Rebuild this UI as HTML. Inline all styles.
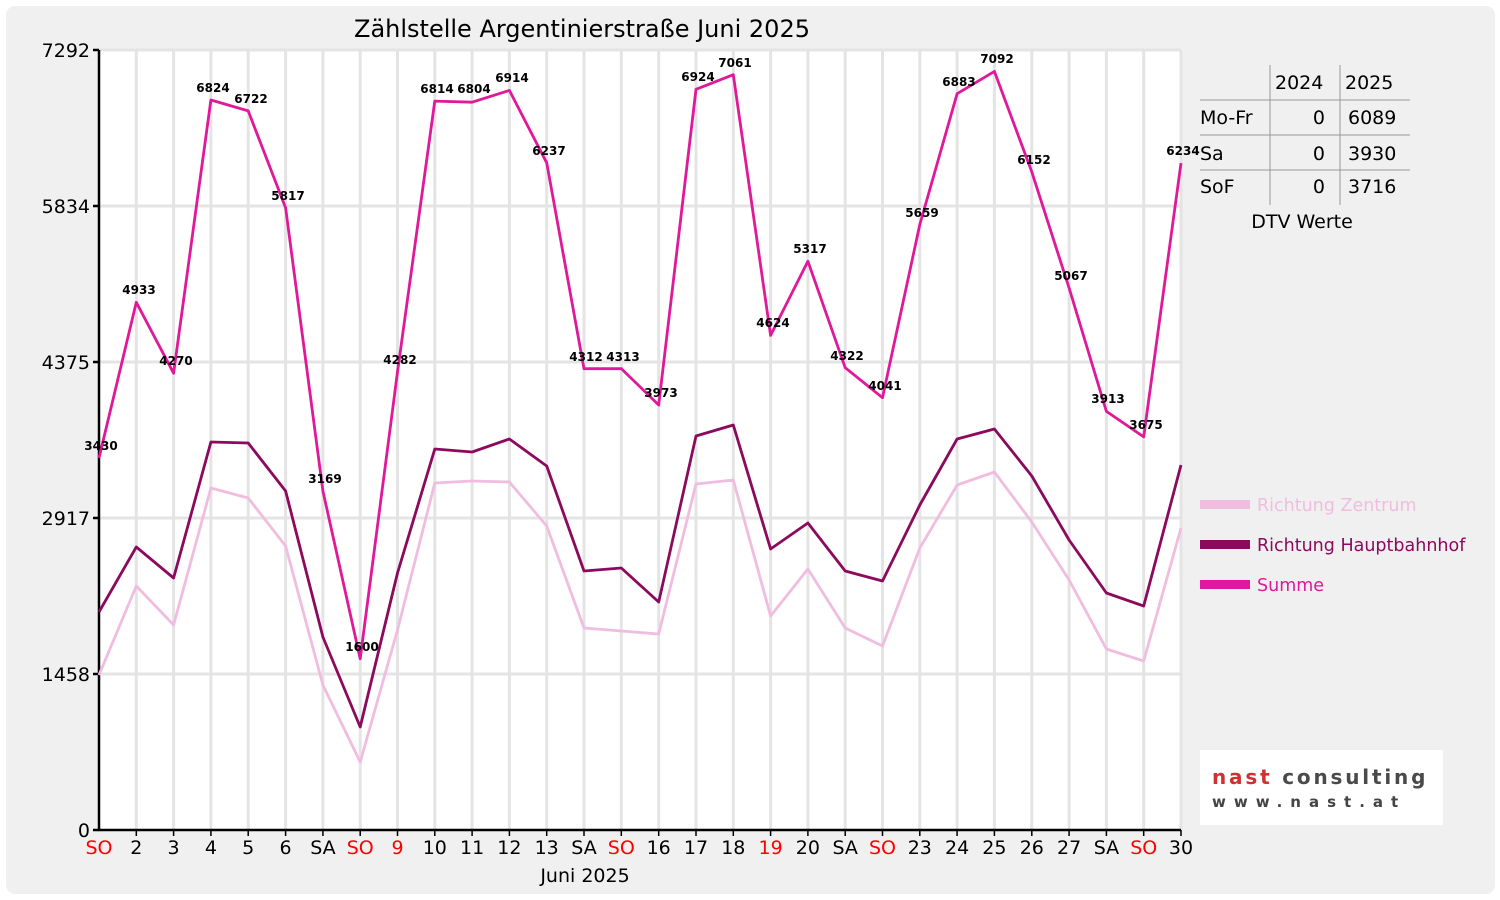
<!DOCTYPE html>
<html><head><meta charset="utf-8"><style>
html,body{margin:0;padding:0;background:#fff;}
svg{display:block;font-family:"DejaVu Sans","Liberation Sans",sans-serif;}
</style></head><body>
<svg width="1500" height="900" xmlns="http://www.w3.org/2000/svg">
<rect x="0" y="0" width="1500" height="900" fill="#ffffff"/>
<rect x="6" y="6" width="1489" height="888" rx="9" fill="#f0f0f0"/>
<rect x="99" y="50" width="1082" height="780" fill="#ffffff"/>
<g stroke="#e4e4e4" stroke-width="3">
<line x1="99" y1="50" x2="1181" y2="50"/><line x1="99" y1="206" x2="1181" y2="206"/><line x1="99" y1="362" x2="1181" y2="362"/><line x1="99" y1="518" x2="1181" y2="518"/><line x1="99" y1="674" x2="1181" y2="674"/>
<line x1="136.3" y1="50" x2="136.3" y2="830"/><line x1="173.6" y1="50" x2="173.6" y2="830"/><line x1="210.9" y1="50" x2="210.9" y2="830"/><line x1="248.2" y1="50" x2="248.2" y2="830"/><line x1="285.6" y1="50" x2="285.6" y2="830"/><line x1="322.9" y1="50" x2="322.9" y2="830"/><line x1="360.2" y1="50" x2="360.2" y2="830"/><line x1="397.5" y1="50" x2="397.5" y2="830"/><line x1="434.8" y1="50" x2="434.8" y2="830"/><line x1="472.1" y1="50" x2="472.1" y2="830"/><line x1="509.4" y1="50" x2="509.4" y2="830"/><line x1="546.7" y1="50" x2="546.7" y2="830"/><line x1="584" y1="50" x2="584" y2="830"/><line x1="621.3" y1="50" x2="621.3" y2="830"/><line x1="658.7" y1="50" x2="658.7" y2="830"/><line x1="696" y1="50" x2="696" y2="830"/><line x1="733.3" y1="50" x2="733.3" y2="830"/><line x1="770.6" y1="50" x2="770.6" y2="830"/><line x1="807.9" y1="50" x2="807.9" y2="830"/><line x1="845.2" y1="50" x2="845.2" y2="830"/><line x1="882.5" y1="50" x2="882.5" y2="830"/><line x1="919.8" y1="50" x2="919.8" y2="830"/><line x1="957.1" y1="50" x2="957.1" y2="830"/><line x1="994.4" y1="50" x2="994.4" y2="830"/><line x1="1031.8" y1="50" x2="1031.8" y2="830"/><line x1="1069.1" y1="50" x2="1069.1" y2="830"/><line x1="1106.4" y1="50" x2="1106.4" y2="830"/><line x1="1143.7" y1="50" x2="1143.7" y2="830"/><line x1="1181" y1="50" x2="1181" y2="830"/>
</g>
<g stroke="#000" stroke-width="2.5">
<line x1="99" y1="50" x2="99" y2="831"/><line x1="98" y1="830" x2="1181" y2="830"/>
<line x1="93" y1="50" x2="99" y2="50"/><line x1="93" y1="206" x2="99" y2="206"/><line x1="93" y1="362" x2="99" y2="362"/><line x1="93" y1="518" x2="99" y2="518"/><line x1="93" y1="674" x2="99" y2="674"/><line x1="93" y1="830" x2="99" y2="830"/>
</g>
<g stroke="#000" stroke-width="1.5">
<line x1="136.3" y1="830" x2="136.3" y2="836"/><line x1="173.6" y1="830" x2="173.6" y2="836"/><line x1="210.9" y1="830" x2="210.9" y2="836"/><line x1="248.2" y1="830" x2="248.2" y2="836"/><line x1="285.6" y1="830" x2="285.6" y2="836"/><line x1="322.9" y1="830" x2="322.9" y2="836"/><line x1="360.2" y1="830" x2="360.2" y2="836"/><line x1="397.5" y1="830" x2="397.5" y2="836"/><line x1="434.8" y1="830" x2="434.8" y2="836"/><line x1="472.1" y1="830" x2="472.1" y2="836"/><line x1="509.4" y1="830" x2="509.4" y2="836"/><line x1="546.7" y1="830" x2="546.7" y2="836"/><line x1="584" y1="830" x2="584" y2="836"/><line x1="621.3" y1="830" x2="621.3" y2="836"/><line x1="658.7" y1="830" x2="658.7" y2="836"/><line x1="696" y1="830" x2="696" y2="836"/><line x1="733.3" y1="830" x2="733.3" y2="836"/><line x1="770.6" y1="830" x2="770.6" y2="836"/><line x1="807.9" y1="830" x2="807.9" y2="836"/><line x1="845.2" y1="830" x2="845.2" y2="836"/><line x1="882.5" y1="830" x2="882.5" y2="836"/><line x1="919.8" y1="830" x2="919.8" y2="836"/><line x1="957.1" y1="830" x2="957.1" y2="836"/><line x1="994.4" y1="830" x2="994.4" y2="836"/><line x1="1031.8" y1="830" x2="1031.8" y2="836"/><line x1="1069.1" y1="830" x2="1069.1" y2="836"/><line x1="1106.4" y1="830" x2="1106.4" y2="836"/><line x1="1143.7" y1="830" x2="1143.7" y2="836"/><line x1="1181" y1="830" x2="1181" y2="836"/>
</g>
<text x="582" y="37" font-size="24" text-anchor="middle" fill="#000">Zählstelle Argentinierstraße Juni 2025</text>
<g font-size="19" text-anchor="end" fill="#000">
<text x="90" y="57">7292</text><text x="90" y="213">5834</text><text x="90" y="369">4375</text><text x="90" y="525">2917</text><text x="90" y="681">1458</text><text x="90" y="837">0</text>
</g>
<g font-size="19" text-anchor="middle" fill="#000">
<text x="99" y="854" fill="#f00">SO</text><text x="136.3" y="854">2</text><text x="173.6" y="854">3</text><text x="210.9" y="854">4</text><text x="248.2" y="854">5</text><text x="285.6" y="854">6</text><text x="322.9" y="854">SA</text><text x="360.2" y="854" fill="#f00">SO</text><text x="397.5" y="854" fill="#f00">9</text><text x="434.8" y="854">10</text><text x="472.1" y="854">11</text><text x="509.4" y="854">12</text><text x="546.7" y="854">13</text><text x="584" y="854">SA</text><text x="621.3" y="854" fill="#f00">SO</text><text x="658.7" y="854">16</text><text x="696" y="854">17</text><text x="733.3" y="854">18</text><text x="770.6" y="854" fill="#f00">19</text><text x="807.9" y="854">20</text><text x="845.2" y="854">SA</text><text x="882.5" y="854" fill="#f00">SO</text><text x="919.8" y="854">23</text><text x="957.1" y="854">24</text><text x="994.4" y="854">25</text><text x="1031.8" y="854">26</text><text x="1069.1" y="854">27</text><text x="1106.4" y="854">SA</text><text x="1143.7" y="854" fill="#f00">SO</text><text x="1181" y="854">30</text>
<text x="585" y="882">Juni 2025</text>
</g>
<g fill="none" stroke-linejoin="round">
<polyline stroke="#f0bde0" stroke-width="2.8" points="99,675 136.3,586 173.6,625 210.9,488 248.2,498 285.6,546 322.9,685 360.2,762 397.5,630 434.8,483 472.1,481 509.4,482 546.7,526 584,628 621.3,631 658.7,634 696,484 733.3,480 770.6,616 807.9,569 845.2,628 882.5,646 919.8,548 957.1,485 994.4,472 1031.8,522 1069.1,580 1106.4,649 1143.7,661 1181,528"/>
<polyline stroke="#8b0a5e" stroke-width="2.8" points="99,612 136.3,547 173.6,578 210.9,442 248.2,443 285.6,491 322.9,637 360.2,727 397.5,573 434.8,449 472.1,452 509.4,439 546.7,466 584,571 621.3,568 658.7,602 696,436 733.3,425 770.6,549 807.9,523 845.2,571 882.5,581 919.8,505 957.1,439 994.4,429 1031.8,476 1069.1,540 1106.4,593 1143.7,606 1181,465"/>
<polyline stroke="#e0189a" stroke-width="2.8" points="99,458 136.3,302.3 173.6,373.2 210.9,100 248.2,110.9 285.6,207.8 322.9,491 360.2,658.8 397.5,371.9 434.8,101.1 472.1,102.2 509.4,90.4 546.7,162.8 584,368.7 621.3,368.6 658.7,405 696,89.3 733.3,74.7 770.6,335.4 807.9,261.2 845.2,367.7 882.5,397.7 919.8,224.6 957.1,93.7 994.4,71.4 1031.8,171.9 1069.1,288 1106.4,411.4 1143.7,436.9 1181,163.1"/>
</g>
<g font-size="12" font-weight="bold" text-anchor="middle" fill="#000">
<text x="101" y="450">3430</text><text x="139" y="294">4933</text><text x="176" y="365">4270</text><text x="213" y="92">6824</text><text x="251" y="103">6722</text><text x="288" y="200">5817</text><text x="325" y="483">3169</text><text x="362" y="651">1600</text><text x="400" y="364">4282</text><text x="437" y="93">6814</text><text x="474" y="93">6804</text><text x="512" y="82">6914</text><text x="549" y="155">6237</text><text x="586" y="361">4312</text><text x="623" y="361">4313</text><text x="661" y="397">3973</text><text x="698" y="81">6924</text><text x="735" y="67">7061</text><text x="773" y="327">4624</text><text x="810" y="253">5317</text><text x="847" y="360">4322</text><text x="885" y="390">4041</text><text x="922" y="217">5659</text><text x="959" y="86">6883</text><text x="997" y="63">7092</text><text x="1034" y="164">6152</text><text x="1071" y="280">5067</text><text x="1108" y="403">3913</text><text x="1146" y="429">3675</text><text x="1183" y="155">6234</text>
</g>
<g stroke="#999" stroke-width="1">
<line x1="1270" y1="65" x2="1270" y2="205"/><line x1="1340" y1="65" x2="1340" y2="205"/>
<line x1="1200" y1="100" x2="1410" y2="100"/><line x1="1200" y1="135" x2="1410" y2="135"/><line x1="1200" y1="170" x2="1410" y2="170"/>
</g>
<g font-size="19" fill="#000">
<text x="1275" y="89">2024</text><text x="1345" y="89">2025</text>
<text x="1200" y="124">Mo-Fr</text><text x="1200" y="160">Sa</text><text x="1200" y="193">SoF</text>
<text x="1325" y="124" text-anchor="end">0</text><text x="1325" y="160" text-anchor="end">0</text><text x="1325" y="193" text-anchor="end">0</text>
<text x="1348" y="124">6089</text><text x="1348" y="160">3930</text><text x="1348" y="193">3716</text>
<text x="1302" y="228" text-anchor="middle">DTV Werte</text>
</g>
<rect x="1200" y="500" width="50" height="9" fill="#f0bde0"/>
<rect x="1200" y="540" width="50" height="9" fill="#8b0a5e"/>
<rect x="1200" y="580" width="50" height="9" fill="#e0189a"/>
<g font-size="17.5">
<text x="1257" y="511" fill="#f0bde0">Richtung Zentrum</text>
<text x="1257" y="551" fill="#8b0a5e">Richtung Hauptbahnhof</text>
<text x="1257" y="591" fill="#e0189a">Summe</text>
</g>
<rect x="1200" y="750" width="243" height="75" fill="#fff"/>
<text x="1212" y="784" font-size="20" font-weight="900" letter-spacing="0.6" textLength="214"><tspan fill="#d03030">nast</tspan><tspan fill="#4a4a4a"> consulting</tspan></text>
<text x="1212" y="807" font-size="15" font-weight="bold" fill="#444" letter-spacing="8">www.nast.at</text>
</svg>
</body></html>
